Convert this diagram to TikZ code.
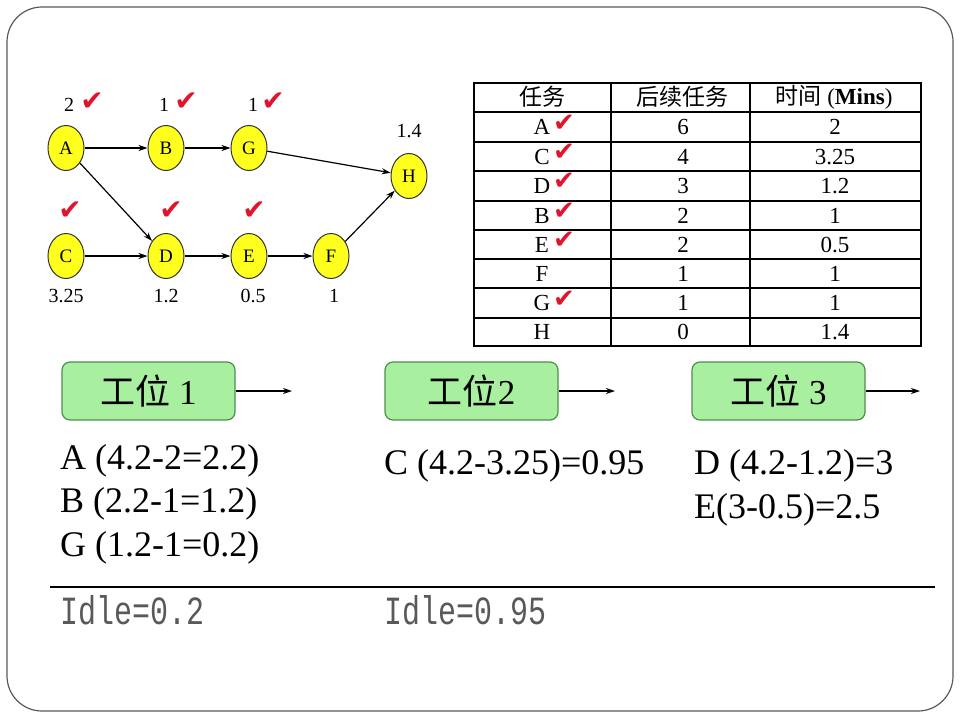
\documentclass[tikz,border=0pt]{standalone}
\usepackage{fontspec}
\setmainfont{Liberation Serif}
\newfontfamily\cjk{Noto Sans CJK SC}
\newfontfamily\symf{DejaVu Sans}
\newfontfamily\idlefont[FakeStretch=0.75]{Liberation Mono}
\usetikzlibrary{shapes.geometric,arrows.meta}

\definecolor{nodeyellow}{HTML}{FFFF1E}
\definecolor{tickred}{HTML}{E0142C}
\definecolor{stationgreen}{HTML}{A8F0A0}
\definecolor{stationedge}{HTML}{4C8F4C}

\tikzset{
  task/.style={ellipse, draw=black!80, fill=nodeyellow, minimum width=36pt, minimum height=45pt,
    inner sep=0pt, line width=1pt, font=\fontsize{19}{19}\selectfont},
  lbl/.style={inner sep=0pt, font=\fontsize{20}{20}\selectfont},
  tick/.style={inner sep=0pt, text=tickred, font=\symf\fontsize{28}{28}\selectfont},
  smalltick/.style={inner sep=0pt, text=tickred, font=\symf\fontsize{26}{26}\selectfont},
  cell/.style={inner sep=0pt, font=\fontsize{23}{23}\selectfont},
  station/.style={draw=stationedge, fill=stationgreen, line width=1.2pt, rounded corners=8pt,
    minimum width=173pt, minimum height=58pt, inner sep=0pt, font=\fontsize{35}{35}\selectfont},
  calc/.style={anchor=base west, inner sep=0pt, font=\fontsize{36}{36}\selectfont},
  idle/.style={anchor=base west, inner sep=0pt, text=black!65, font=\idlefont\fontsize{40}{40}\selectfont},
  link/.style={->, line width=1.2pt}
}

\begin{document}
\begin{tikzpicture}[x=1pt,y=-1pt,>={Stealth[length=9pt,width=6pt]}]
    \useasboundingbox (0,0) rectangle (960,720);
    \draw[black!65, line width=1.2pt, rounded corners=35pt] (7,7) rectangle (953,711);

    % precedence graph
    \node[task] (A) at (66,148) {A};
    \node[task] (B) at (166,148) {B};
    \node[task] (G) at (249,148) {G};
    \node[task] (H) at (409,176) {H};
    \node[task] (C) at (66,256) {C};
    \node[task] (D) at (166,256) {D};
    \node[task] (E) at (249,256) {E};
    \node[task] (F) at (331,256) {F};

    \draw[link] (A) -- (B);
    \draw[link] (B) -- (G);
    \draw[link] (G) -- (H);
    \draw[link] (A) -- (D);
    \draw[link] (C) -- (D);
    \draw[link] (D) -- (E);
    \draw[link] (E) -- (F);
    \draw[link] (F) -- (H);

    \node[lbl] (tA) at (69,105) {2};
    \node[lbl] (tB) at (164,105) {1};
    \node[lbl] (tG) at (253,105) {1};
    \node[lbl] (tH) at (409,131) {1.4};
    \node[lbl] (tC) at (66,296) {3.25};
    \node[lbl] (tD) at (166,296) {1.2};
    \node[lbl] (tE) at (253,296) {0.5};
    \node[lbl] (tF) at (334,296) {1};
    \node[tick] (kA) at (92,102) {✔};
    \node[tick] (kB) at (186,102) {✔};
    \node[tick] (kG) at (273,102) {✔};
    \node[tick] (kC) at (70,211) {✔};
    \node[tick] (kD) at (171,211) {✔};
    \node[tick] (kE) at (254,211) {✔};

    % task table
    \draw[line width=2pt] (474,83) rectangle (921,346);
    \draw[line width=2pt] (611,83) -- (611,346) (750,83) -- (750,346);
    \draw[line width=2pt] (474,112) -- (921,112) (474,142) -- (921,142) (474,171) -- (921,171)
      (474,201) -- (921,201) (474,230) -- (921,230) (474,259) -- (921,259)
      (474,288) -- (921,288) (474,318) -- (921,318);
    \node[cell] (h1) at (542,97) {\cjk 任务};
    \node[cell] (h2) at (682,97) {\cjk 后续任务};
    \node[cell] (h3) at (834,97) {{\cjk 时间} (\textbf{Mins})};
    \node[cell] (rA) at (542,127) {A}; \node[smalltick] (cA) at (564,123) {✔}; \node[cell] (nA) at (683,127) {6}; \node[cell] (mA) at (835,127) {2};
    \node[cell] (rC) at (542,157) {C}; \node[smalltick] (cC) at (564,152) {✔}; \node[cell] (nC) at (683,157) {4}; \node[cell] (mC) at (835,157) {3.25};
    \node[cell] (rD) at (542,186) {D}; \node[smalltick] (cD) at (564,181) {✔}; \node[cell] (nD) at (683,186) {3}; \node[cell] (mD) at (835,186) {1.2};
    \node[cell] (rB) at (542,216) {B}; \node[smalltick] (cB) at (564,211) {✔}; \node[cell] (nB) at (683,216) {2}; \node[cell] (mB) at (835,216) {1};
    \node[cell] (rE) at (542,245) {E}; \node[smalltick] (cE) at (564,240) {✔}; \node[cell] (nE) at (683,245) {2}; \node[cell] (mE) at (835,245) {0.5};
    \node[cell] (rF) at (542,274) {F}; \node[cell] (nF) at (683,274) {1}; \node[cell] (mF) at (835,274) {1};
    \node[cell] (rG) at (542,303) {G}; \node[smalltick] (cG) at (564,299) {✔}; \node[cell] (nG) at (683,303) {1}; \node[cell] (mG) at (835,303) {1};
    \node[cell] (rH) at (542,332) {H}; \node[cell] (nH) at (683,332) {0}; \node[cell] (mH) at (835,332) {1.4};

    % stations
    \node[station] (s1) at (148.5,391) {{\cjk 工位} 1};
    \node[station] (s2) at (471.5,391) {{\cjk 工位}2};
    \node[station] (s3) at (778.5,391) {{\cjk 工位} 3};
    \coordinate (o1) at (292,391);
    \coordinate (o2) at (615,391);
    \coordinate (o3) at (920,391);
    \draw[link] (s1) -- (o1);
    \draw[link] (s2) -- (o2);
    \draw[link] (s3) -- (o3);

    \node[calc] (a1) at (60,469) {A (4.2-2=2.2)};
    \node[calc] (a2) at (60,512) {B (2.2-1=1.2)};
    \node[calc] (a3) at (60,556) {G (1.2-1=0.2)};
    \node[calc] (b1) at (384,474) {C (4.2-3.25)=0.95};
    \node[calc] (c1) at (694,474) {D (4.2-1.2)=3};
    \node[calc] (c2) at (694,518) {E(3-0.5)=2.5};

    \coordinate (l1) at (50,587);
    \coordinate (l2) at (935,587);
    \draw[line width=1.2pt] (l1) -- (l2);
    \node[idle] (i1) at (60,624) {Idle=0.2};
    \node[idle] (i2) at (384,624) {Idle=0.95};
  \end{tikzpicture}
\end{document}
